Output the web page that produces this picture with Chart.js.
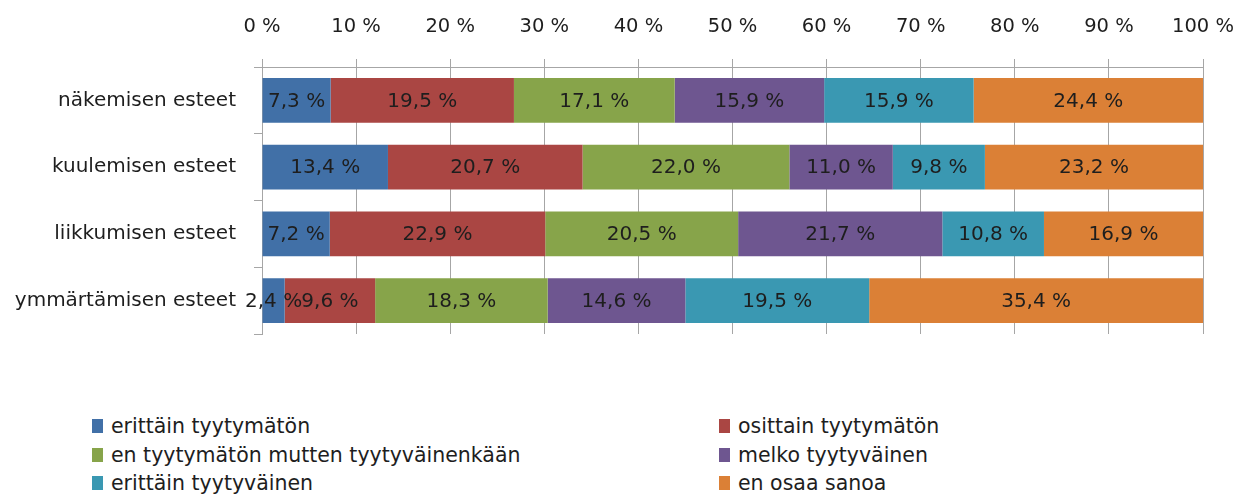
<!DOCTYPE html>
<html lang="fi">
<head>
<meta charset="utf-8">
<script src="https://cdn.jsdelivr.net/npm/chart.js@4/dist/chart.umd.min.js"></script>
<style>
  body { margin: 0; background: #fff; font-family: "DejaVu Sans", sans-serif; }
  #kaikki { position: relative; width: 1236px; height: 494px; overflow: hidden; }
  #kaavio { position: absolute; left: 0; top: 0; width: 1236px; height: 345px; }
  #selite { position: absolute; left: 92px; top: 415px; display: grid;
            grid-template-columns: 627px 400px; row-gap: 6.5px; font-size: 20.5px; color: #1e1e1e; }
  .rivi { display: flex; align-items: center; height: 22px; white-space: nowrap; }
  .laatikko { width: 11px; height: 14px; margin-right: 8px; flex: none; }
</style>
</head>
<body>
<div id="kaikki">
  <div id="kaavio"><canvas id="grafico"></canvas></div>
  <div id="selite"></div>
</div>
<script>
// kategoriat (esteet)
const kategoriat = ['näkemisen esteet', 'kuulemisen esteet', 'liikkumisen esteet', 'ymmärtämisen esteet'];

// vastausvaihtoehdot ja värit
const sarjat = ['erittäin tyytymätön', 'osittain tyytymätön', 'en tyytymätön mutten tyytyväinenkään',
                'melko tyytyväinen', 'erittäin tyytyväinen', 'en osaa sanoa'];
const varit = ['#4170A7', '#AA4643', '#87A44A', '#6E5690', '#3A98B2', '#DB8036'];

// prosentit, yksi lista per vaihtoehto (järjestys = kategoriat)
const erittainTyytymaton = [7.3, 13.4, 7.2, 2.4];
const osittainTyytymaton = [19.5, 20.7, 22.9, 9.6];
const enTyytymaton = [17.1, 22.0, 20.5, 18.3];
const melkoTyytyvainen = [15.9, 11.0, 21.7, 14.6];
const erittainTyytyvainen = [15.9, 9.8, 10.8, 19.5];
const enOsaaSanoa = [24.4, 23.2, 16.9, 35.4];

// akselin jaot
const akselinJaot = [0, 10, 20, 30, 40, 50, 60, 70, 80, 90, 100];

const arvot = [erittainTyytymaton, osittainTyytymaton, enTyytymaton, melkoTyytyvainen, erittainTyytyvainen, enOsaaSanoa];

// 100 % pinottu: rivin summa skaalataan sataan
const summat = kategoriat.map((k, i) => arvot.reduce((s, a) => s + a[i], 0));

const muoto = v => v.toFixed(1).replace('.', ',') + ' %';
const harmaa = '#a6a6a6';
const fontti = '"DejaVu Sans", sans-serif';

// prosenttitekstit palkkien keskelle
const tekstit = {
    id: 'tekstit',
    afterDatasetsDraw(chart) {
        const ctx = chart.ctx;
        ctx.save();
        ctx.font = '20px ' + fontti;
        ctx.fillStyle = '#1e1e1e';
        ctx.textAlign = 'center';
        ctx.textBaseline = 'middle';
        chart.data.datasets.forEach((ds, d) => {
            chart.getDatasetMeta(d).data.forEach((el, i) => {
                ctx.fillText(muoto(ds.raaka[i]), (el.x + el.base) / 2, el.y + 1);
            });
        });
        ctx.restore();
    }
};

const context = document.getElementById('grafico').getContext('2d');
const grafico = new Chart(context, {
    type: 'bar',
    data: {
        labels: kategoriat,
        datasets: sarjat.map((nimi, d) => ({
            label: nimi,
            data: arvot[d].map((v, i) => v / summat[i] * 100),
            raaka: arvot[d],
            backgroundColor: varit[d],
            borderWidth: 0,
            categoryPercentage: 0.667,
            barPercentage: 1
        }))
    },
    options: {
        indexAxis: 'y',
        responsive: true,
        maintainAspectRatio: false,
        animation: false,
        layout: { padding: { left: 0, right: 33, top: 0, bottom: 11 } },
        plugins: { legend: { display: false }, tooltip: { enabled: false } },
        scales: {
            x: {
                position: 'top',
                stacked: true,
                min: 0,
                max: 100,
                afterBuildTicks: s => { s.ticks = akselinJaot.map(v => ({ value: v })); },
                afterFit: s => { s.height = 67; s.paddingLeft = 0; s.paddingRight = 0; },
                grid: { color: harmaa, tickLength: 8 },
                border: { color: harmaa },
                ticks: {
                    padding: 20,
                    color: '#1e1e1e',
                    font: { family: fontti, size: 19.5 },
                    callback: v => v + ' %',
                    maxRotation: 0
                }
            },
            y: {
                stacked: true,
                afterFit: s => { s.width = 262; s.paddingTop = 0; s.paddingBottom = 0; },
                grid: { display: true, drawOnChartArea: false, offset: true, color: harmaa, tickLength: 8 },
                border: { color: harmaa },
                ticks: {
                    padding: 18,
                    color: '#1e1e1e',
                    font: { family: fontti, size: 20 }
                }
            }
        }
    },
    plugins: [tekstit]
});

// selite kahteen sarakkeeseen
const selite = document.getElementById('selite');
sarjat.forEach((nimi, d) => {
    const rivi = document.createElement('div');
    rivi.className = 'rivi';
    const laatikko = document.createElement('span');
    laatikko.className = 'laatikko';
    laatikko.style.background = varit[d];
    const teksti = document.createElement('span');
    teksti.textContent = nimi;
    rivi.appendChild(laatikko);
    rivi.appendChild(teksti);
    selite.appendChild(rivi);
});
</script>
</body>
</html>
